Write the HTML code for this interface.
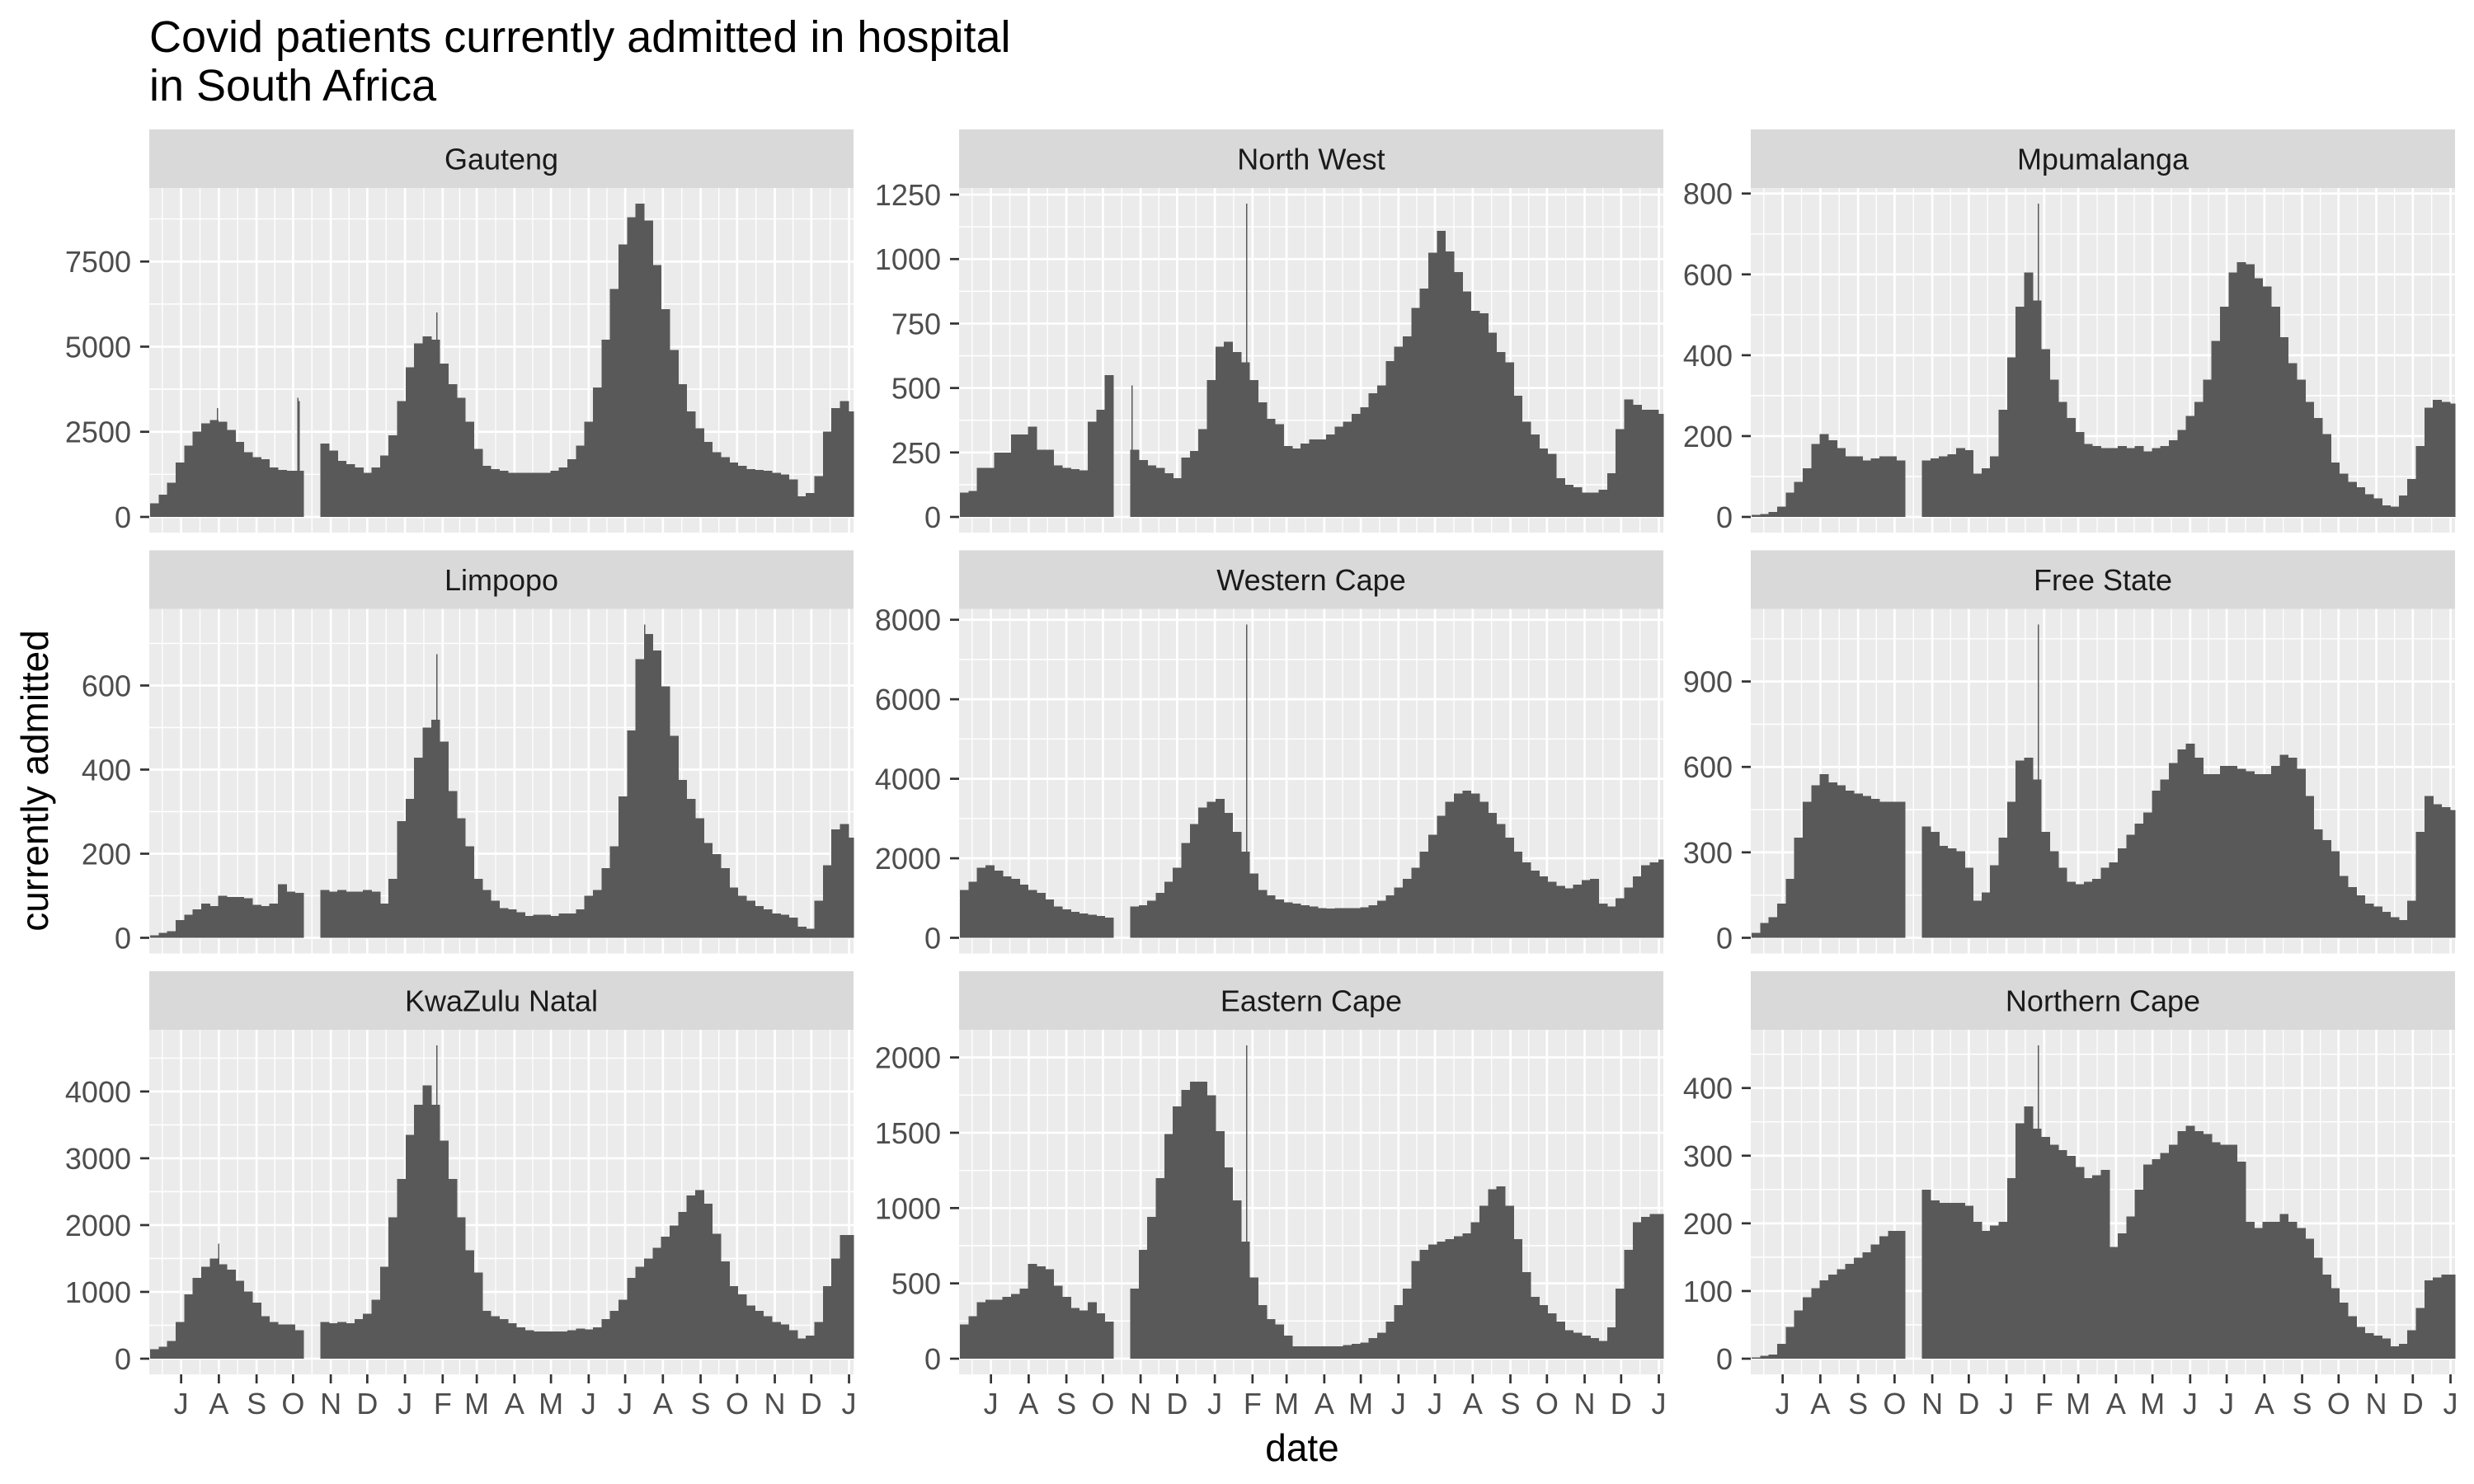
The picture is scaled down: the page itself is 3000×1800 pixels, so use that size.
<!DOCTYPE html>
<html>
<head>
<meta charset="utf-8">
<style>
  html, body { margin: 0; padding: 0; background: #ffffff; }
  svg { display: block; }
  text { font-family: "Liberation Sans", Arial, sans-serif; }
</style>
</head>
<body>
<svg id="chart" xmlns="http://www.w3.org/2000/svg" width="3000" height="1800" viewBox="0 0 3000 1800">
  <rect x="0" y="0" width="3000" height="1800" fill="#ffffff"></rect>
  <text x="181" y="63" font-size="54" fill="#000000">Covid patients currently admitted in hospital</text>
  <text x="181" y="122" font-size="54" fill="#000000">in South Africa</text>
  <text x="1579" y="1772" font-size="46" fill="#000000" text-anchor="middle">date</text>
  <text x="0" y="0" font-size="46" fill="#000000" text-anchor="middle" transform="translate(58,947) rotate(-90)">currently admitted</text>
</svg>
<script>
// ---- data: weekly values, week i starts on day 157 + 7*i (days since 2020-01-01) ----
const weekStartDay = 157;
const gautengVals = [400,650,1000,1600,2100,2500,2750,2850,2800,2550,2200,1900,1750,1700,1450,1380,1350,1350,null,null,2150,1950,1650,1550,1450,1300,1450,1800,2400,3400,4400,5100,5300,5200,4500,3900,3500,2800,2000,1500,1400,1350,1300,1300,1300,1300,1300,1350,1450,1700,2100,2800,3800,5200,6700,8000,8800,9200,8700,7400,6100,4900,3900,3100,2600,2200,1900,1750,1600,1500,1400,1380,1350,1300,1250,1100,600,700,1200,2500,3200,3400,3100];
const northWestVals = [94,100,190,190,250,250,320,320,350,260,260,200,190,185,180,370,415,550,null,null,260,220,200,190,170,150,230,255,340,530,660,680,640,600,530,445,380,360,275,265,285,300,300,320,350,370,400,425,480,510,605,660,700,810,885,1025,1110,1030,950,875,800,790,715,640,600,470,370,320,265,245,150,125,115,95,95,105,170,340,455,435,415,415,400];
const mpumalangaVals = [5,7,12,26,60,87,120,180,205,190,170,150,150,140,145,150,150,140,null,null,140,145,150,155,170,165,107,120,150,265,395,520,605,535,415,340,285,245,210,180,175,170,170,175,170,175,162,170,175,190,215,250,285,340,435,520,605,630,625,590,570,520,445,380,340,285,245,205,135,107,87,73,56,46,29,26,53,94,175,270,290,285,280];
const limpopoVals = [6,12,16,42,55,68,81,75,100,97,97,94,78,75,81,127,110,107,null,null,114,110,114,110,110,114,110,81,140,277,330,428,500,519,467,349,284,218,140,114,88,71,68,61,52,55,55,52,58,58,68,100,114,166,218,336,493,663,722,683,598,480,375,330,284,225,199,166,120,100,88,75,68,58,55,48,26,22,88,173,258,271,238];
const westernCapeVals = [1200,1410,1760,1830,1690,1550,1480,1340,1200,1130,960,790,720,650,615,580,550,510,null,null,790,820,930,1130,1410,1760,2380,2860,3280,3420,3490,3140,2660,2170,1620,1200,1070,960,890,860,820,790,750,735,750,750,750,770,820,930,1070,1270,1480,1760,2170,2590,3070,3420,3630,3700,3630,3420,3140,2860,2520,2170,1900,1690,1550,1410,1310,1240,1340,1450,1480,860,790,1000,1270,1550,1830,1900,1970];
const freeStateVals = [18,52,72,120,207,352,478,536,575,546,536,517,507,498,488,478,478,478,null,null,391,372,323,314,304,246,130,159,255,352,478,623,633,556,372,304,246,197,188,197,207,246,265,314,362,401,440,517,556,614,662,682,633,575,575,604,604,594,585,575,575,604,643,633,594,498,381,343,304,217,178,149,120,110,91,72,62,130,372,498,469,459,449];
const kwazuluVals = [140,181,263,551,963,1210,1374,1498,1416,1333,1169,1004,839,634,551,510,510,428,null,null,550,530,551,530,593,675,880,1374,2115,2691,3350,3802,4090,3802,3267,2691,2115,1621,1292,716,634,593,530,469,428,407,407,407,407,428,448,436,469,593,716,880,1210,1374,1498,1662,1827,1992,2197,2444,2526,2321,1868,1457,1086,963,798,716,634,551,510,428,305,346,551,1086,1498,1850,1850];
const easternCapeVals = [227,282,374,392,392,410,429,465,630,612,594,484,410,337,319,374,300,245,null,null,465,722,942,1198,1491,1674,1784,1839,1839,1748,1510,1271,1052,777,539,355,264,227,154,81,81,81,81,81,81,90,99,108,136,172,245,355,465,649,722,758,777,795,813,832,905,1015,1125,1143,1015,795,575,410,355,300,245,190,172,154,136,117,209,465,722,905,942,960,960];
const northernCapeVals = [2,4,6,22,47,71,91,104,116,124,132,140,149,157,169,181,189,189,null,null,250,234,230,230,230,226,202,189,197,202,267,348,373,340,328,316,308,300,283,267,271,279,165,185,210,250,287,295,304,316,336,344,336,332,320,316,316,291,202,193,202,202,214,202,193,177,149,124,104,83,63,47,38,34,30,18,22,42,75,116,120,124,124];

// single-day spikes
const gautengSpikeDays = [212,278,279,392];
const gautengSpikeVals = [3200,3500,3400,6000];
const northWestSpikeDays = [298,392];
const northWestSpikeVals = [510,1215];
const mpumalangaSpikeDays = [392];
const mpumalangaSpikeVals = [775];
const limpopoSpikeDays = [392,563];
const limpopoSpikeVals = [674,745];
const westernCapeSpikeDays = [392];
const westernCapeSpikeVals = [7880];
const freeStateSpikeDays = [392];
const freeStateSpikeVals = [1100];
const kwazuluSpikeDays = [213,392];
const kwazuluSpikeVals = [1720,4690];
const easternCapeSpikeDays = [392];
const easternCapeSpikeVals = [2080];
const northernCapeSpikeDays = [392];
const northernCapeSpikeVals = [463];

// y tick labels
const gautengTicks = [0,2500,5000,7500];
const northWestTicks = [0,250,500,750,1000,1250];
const mpumalangaTicks = [0,200,400,600,800];
const limpopoTicks = [0,200,400,600];
const westernCapeTicks = [0,2000,4000,6000,8000];
const freeStateTicks = [0,300,600,900];
const kwazuluTicks = [0,1000,2000,3000,4000];
const easternCapeTicks = [0,500,1000,1500,2000];
const northernCapeTicks = [0,100,200,300,400];

// x axis: month starts (days since 2020-01-01) and labels
const monthDays = [182,213,244,274,305,335,366,397,425,456,486,517,547,578,609,639,670,700,731];
const monthLabels = ["J","A","S","O","N","D","J","F","M","A","M","J","J","A","S","O","N","D","J"];

const dayMin = 155.8, dayMax = 734.7;

const NS = "http://www.w3.org/2000/svg";
const svg = document.getElementById("chart");
function mk(tag, parent) {
  const e = document.createElementNS(NS, tag);
  parent.appendChild(e);
  return e;
}

const panels = [
  {title:"Gauteng", vals:gautengVals, sd:gautengSpikeDays, sv:gautengSpikeVals, ticks:gautengTicks, col:0, row:0, key:"gauteng"},
  {title:"North West", vals:northWestVals, sd:northWestSpikeDays, sv:northWestSpikeVals, ticks:northWestTicks, col:1, row:0, key:"north-west"},
  {title:"Mpumalanga", vals:mpumalangaVals, sd:mpumalangaSpikeDays, sv:mpumalangaSpikeVals, ticks:mpumalangaTicks, col:2, row:0, key:"mpumalanga"},
  {title:"Limpopo", vals:limpopoVals, sd:limpopoSpikeDays, sv:limpopoSpikeVals, ticks:limpopoTicks, col:0, row:1, key:"limpopo"},
  {title:"Western Cape", vals:westernCapeVals, sd:westernCapeSpikeDays, sv:westernCapeSpikeVals, ticks:westernCapeTicks, col:1, row:1, key:"western-cape"},
  {title:"Free State", vals:freeStateVals, sd:freeStateSpikeDays, sv:freeStateSpikeVals, ticks:freeStateTicks, col:2, row:1, key:"free-state"},
  {title:"KwaZulu Natal", vals:kwazuluVals, sd:kwazuluSpikeDays, sv:kwazuluSpikeVals, ticks:kwazuluTicks, col:0, row:2, key:"kwazulu-natal"},
  {title:"Eastern Cape", vals:easternCapeVals, sd:easternCapeSpikeDays, sv:easternCapeSpikeVals, ticks:easternCapeTicks, col:1, row:2, key:"eastern-cape"},
  {title:"Northern Cape", vals:northernCapeVals, sd:northernCapeSpikeDays, sv:northernCapeSpikeVals, ticks:northernCapeTicks, col:2, row:2, key:"northern-cape"}
];

const colLeft = [181, 1163, 2123];
const plotTop = [228, 738.5, 1249];
const PW = 854, PH = 418, STRIP = 71;

panels.forEach(function(p) {
  const L = colLeft[p.col], T = plotTop[p.row], B = T + PH, R = L + PW;
  const g = mk("g", svg);
  
  

  const xs = function(d) { return L + (d - dayMin) / (dayMax - dayMin) * PW; };
  let M = 0;
  p.vals.forEach(function(v){ if (v !== null && v > M) M = v; });
  p.sv.forEach(function(v){ if (v > M) M = v; });
  const lo = -0.05 * M, hi = 1.05 * M;
  const ys = function(v) { return B - (v - lo) / (hi - lo) * PH; };

  // strip
  const strip = mk("rect", g);
  strip.setAttribute("x", L); strip.setAttribute("y", T - STRIP);
  strip.setAttribute("width", PW); strip.setAttribute("height", STRIP);
  strip.setAttribute("fill", "#D9D9D9");
  
  
  const st = mk("text", g);
  st.setAttribute("x", L + PW / 2); st.setAttribute("y", T - STRIP / 2 + 13);
  st.setAttribute("text-anchor", "middle"); st.setAttribute("font-size", "36");
  st.setAttribute("fill", "#1A1A1A");
  st.textContent = p.title;
  
  

  // panel background
  const bg = mk("rect", g);
  bg.setAttribute("x", L); bg.setAttribute("y", T);
  bg.setAttribute("width", PW); bg.setAttribute("height", PH);
  bg.setAttribute("fill", "#EBEBEB");
  
  

  // grid
  const grid = mk("g", g);
  
  
  const step = p.ticks[1] - p.ticks[0];
  const minorY = [];
  p.ticks.forEach(function(t){ minorY.push(t - step / 2); minorY.push(t + step / 2); });
  minorY.forEach(function(v) {
    if (v <= lo || v >= hi) return;
    if (p.ticks.indexOf(v) >= 0) return;
    const ln = mk("line", grid);
    ln.setAttribute("x1", L); ln.setAttribute("x2", R);
    ln.setAttribute("y1", ys(v)); ln.setAttribute("y2", ys(v));
    ln.setAttribute("stroke", "#FFFFFF"); ln.setAttribute("stroke-width", "1.35");
  });
  const minorX = [monthDays[0] - 15.5];
  for (let i = 0; i < monthDays.length - 1; i++) minorX.push((monthDays[i] + monthDays[i + 1]) / 2);
  minorX.forEach(function(d) {
    if (d <= dayMin || d >= dayMax) return;
    const ln = mk("line", grid);
    ln.setAttribute("x1", xs(d)); ln.setAttribute("x2", xs(d));
    ln.setAttribute("y1", T); ln.setAttribute("y2", B);
    ln.setAttribute("stroke", "#FFFFFF"); ln.setAttribute("stroke-width", "1.35");
  });
  p.ticks.forEach(function(t) {
    const ln = mk("line", grid);
    ln.setAttribute("x1", L); ln.setAttribute("x2", R);
    ln.setAttribute("y1", ys(t)); ln.setAttribute("y2", ys(t));
    ln.setAttribute("stroke", "#FFFFFF"); ln.setAttribute("stroke-width", "2.7");
  });
  monthDays.forEach(function(d) {
    if (d <= dayMin || d >= dayMax) return;
    const ln = mk("line", grid);
    ln.setAttribute("x1", xs(d)); ln.setAttribute("x2", xs(d));
    ln.setAttribute("y1", T); ln.setAttribute("y2", B);
    ln.setAttribute("stroke", "#FFFFFF"); ln.setAttribute("stroke-width", "2.7");
  });

  // bars
  const bars = mk("g", g);
  
  
  bars.setAttribute("shape-rendering", "crispEdges");
  p.vals.forEach(function(v, i) {
    if (v === null) return;
    const d0 = weekStartDay + 7 * i - 0.5, d1 = d0 + 7;
    const x0 = Math.max(L, xs(d0)), x1 = Math.min(R, xs(d1));
    if (x1 <= x0) return;
    const r = mk("rect", bars);
    r.setAttribute("x", x0); r.setAttribute("width", x1 - x0 + 0.6);
    r.setAttribute("y", ys(v)); r.setAttribute("height", ys(0) - ys(v));
    r.setAttribute("fill", "#595959");
    
    
  });
  p.sd.forEach(function(d, i) {
    const v = p.sv[i];
    const r = mk("rect", bars);
    r.setAttribute("x", xs(d - 0.45)); r.setAttribute("width", Math.max(1.5, xs(d + 0.45) - xs(d - 0.45)));
    r.setAttribute("y", ys(v)); r.setAttribute("height", ys(0) - ys(v));
    r.setAttribute("fill", "#595959");
    
    
  });

  // y axis
  const yax = mk("g", g);
  
  
  p.ticks.forEach(function(t) {
    const tk = mk("line", yax);
    tk.setAttribute("x1", L - 11); tk.setAttribute("x2", L);
    tk.setAttribute("y1", ys(t)); tk.setAttribute("y2", ys(t));
    tk.setAttribute("stroke", "#333333"); tk.setAttribute("stroke-width", "2.7");
    const tl = mk("text", yax);
    tl.setAttribute("x", L - 22); tl.setAttribute("y", ys(t) + 13);
    tl.setAttribute("text-anchor", "end"); tl.setAttribute("font-size", "36");
    tl.setAttribute("fill", "#4D4D4D");
    tl.textContent = String(t);
    
    
  });

  // x axis (bottom row only)
  if (p.row === 2) {
    const xax = mk("g", g);
    
    
    monthDays.forEach(function(d, i) {
      const x = xs(d);
      const tk = mk("line", xax);
      tk.setAttribute("x1", x); tk.setAttribute("x2", x);
      tk.setAttribute("y1", B); tk.setAttribute("y2", B + 11);
      tk.setAttribute("stroke", "#333333"); tk.setAttribute("stroke-width", "2.7");
      const tl = mk("text", xax);
      tl.setAttribute("x", x); tl.setAttribute("y", B + 48);
      tl.setAttribute("text-anchor", "middle"); tl.setAttribute("font-size", "36");
      tl.setAttribute("fill", "#4D4D4D");
      tl.textContent = monthLabels[i];
      
      
    });
  }
});
</script>
</body>
</html>
